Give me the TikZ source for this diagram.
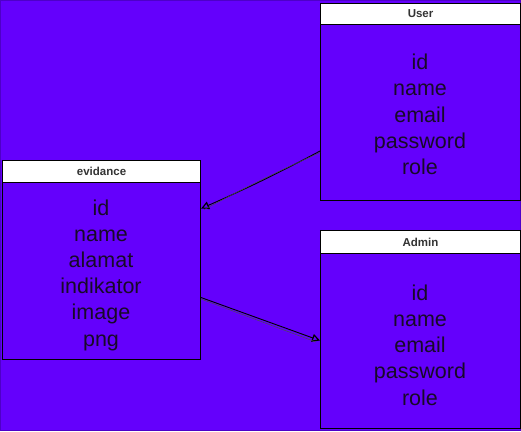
\documentclass[tikz,border=0pt]{standalone}
\usepackage{fontspec}
\setmainfont{Liberation Sans}
\usetikzlibrary{arrows.meta}
\definecolor{bgviolet}{RGB}{100,0,252}
\definecolor{bgedge}{RGB}{78,0,200}
\definecolor{ink}{RGB}{24,10,40}
\tikzset{
  body/.style={draw=black, line width=1.1pt, fill=bgviolet, minimum width=#1, inner sep=0pt, anchor=north west},
  head/.style={draw=black, line width=1.1pt, fill=white, inner sep=0pt, anchor=north west,
    font=\fontsize{11.5}{13}\selectfont\bfseries, text=black!80},
  fields/.style={align=center, text=ink, font=\fontsize{21.5}{26.2}\selectfont, inner sep=0pt},
  link/.style={draw=black, line width=0.9pt, -{Triangle[open, length=8pt, width=8pt, line width=1.2pt]}},
  linkb/.style={draw=black!70, line width=0.5pt}
}
\begin{document}
\begin{tikzpicture}[x=1pt, y=-1pt]
\useasboundingbox (0,0) rectangle (521,431);
\fill[bgviolet] (0,0) rectangle (521,431);
\draw[bgedge, line width=1.2pt] (0.6,0.6) rectangle (520.4,430.4);

% boxes
\node[body=200pt, minimum height=197pt] (user) at (320,3) {};
\node[head, minimum width=200pt, minimum height=21pt] (userh) at (320,3) {User};
\node[body=198pt, minimum height=199pt] (ev) at (2,160) {};
\node[head, minimum width=198pt, minimum height=22pt] (evh) at (2,160) {evidance};
\node[body=200pt, minimum height=198pt] (adm) at (320,230) {};
\node[head, minimum width=200pt, minimum height=23pt] (admh) at (320,230) {Admin};

% fields
\node[fields] (userf) at (420,114.5) {id\\name\\email\\password\\role};
\node[fields] (evf) at (101,275) {id\\name\\alamat\\indikator\\image\\png};
\node[fields] (admf) at (420,345) {id\\name\\email\\password\\role};

% connectors
\coordinate (u1) at ([yshift=-49pt]user.west);
\coordinate (e1) at ([yshift=51.5pt]ev.east);
\coordinate (e2) at ([yshift=-37.5pt]ev.east);
\coordinate (a2) at ([yshift=-11pt]adm.west);
\draw[link] (u1) to[bend left=2] (e1);
\draw[linkb] ([yshift=-1.5pt]u1) to[bend right=2] ([yshift=-1pt,xshift=3pt]e1);
\draw[link] (e2) -- (a2);
\draw[linkb] ([yshift=-1.5pt]e2) -- ([yshift=-1.5pt,xshift=-4pt]a2);
\end{tikzpicture}
\end{document}
